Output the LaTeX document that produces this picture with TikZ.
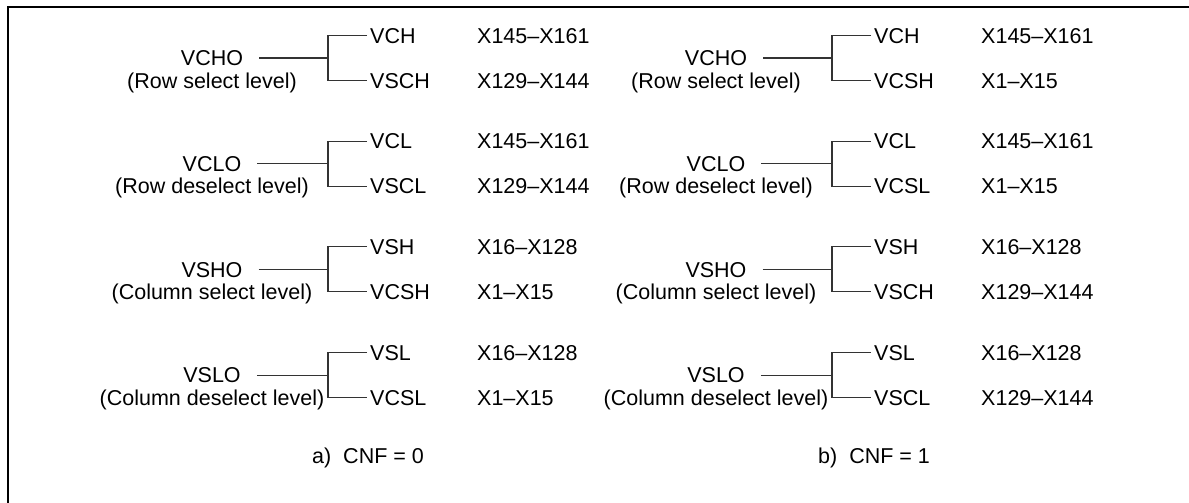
\documentclass[tikz,border=0pt]{standalone}
\usepackage{fontspec}
\setmainfont{Liberation Sans}
\usetikzlibrary{positioning}
\tikzset{
  txt/.style={font=\fontsize{21.5}{25}\selectfont,inner sep=3pt,text height=15.4pt,text depth=0pt},
  ln/.style={line width=1.1pt,black!80},
  frm/.style={line width=2pt,black}
}
\begin{document}
\begin{tikzpicture}[x=1pt,y=-1pt]
\useasboundingbox (0,0) rectangle (1189,503);
% open frame
\draw[frm] (7.5,510) -- (7.5,7.5) -- (1195,7.5);
% k = column, i = row group
\foreach \k/\i/\m/\s/\t/\tr/\b/\br in {
  0/1/VCHO/Row select level/VCH/X145--X161/VSCH/X129--X144,
  0/2/VCLO/Row deselect level/VCL/X145--X161/VSCL/X129--X144,
  0/3/VSHO/Column select level/VSH/X16--X128/VCSH/X1--X15,
  0/4/VSLO/Column deselect level/VSL/X16--X128/VCSL/X1--X15,
  1/1/VCHO/Row select level/VCH/X145--X161/VCSH/X1--X15,
  1/2/VCLO/Row deselect level/VCL/X145--X161/VCSL/X1--X15,
  1/3/VSHO/Column select level/VSH/X16--X128/VSCH/X129--X144,
  1/4/VSLO/Column deselect level/VSL/X16--X128/VSCL/X129--X144}{
  \pgfmathsetmacro\dx{504*\k}
  \pgfmathsetmacro\yy{58+105.7*(\i-1)}
  \node[txt] (m\k\i) at (212+\dx,\yy) {\m};
  \node[txt] (s\k\i) at (212+\dx,\yy+22.5) {(\s)};
  \node[txt,anchor=west] (t\k\i) at (367+\dx,\yy-22.5) {\t};
  \node[txt,anchor=west] (b\k\i) at (367+\dx,\yy+22.5) {\b};
  \node[txt,anchor=west,inner sep=0pt] (tr\k\i) at (477+\dx,\yy-22.5) {\tr};
  \node[txt,anchor=west,inner sep=0pt] (br\k\i) at (477+\dx,\yy+22.5) {\br};
  \coordinate (j\k\i) at (328+\dx,\yy);
  \draw[ln,shorten <=13pt] (m\k\i) -- (j\k\i);
  \draw[ln] (t\k\i.west) -| (j\k\i) |- (b\k\i.west);
}
% captions
\node[txt,anchor=west,inner sep=0pt] (capa) at (312,456) {a)\ \ CNF = 0};
\node[txt,anchor=west,inner sep=0pt] (capb) at (818,456) {b)\ \ CNF = 1};
\end{tikzpicture}
\end{document}
